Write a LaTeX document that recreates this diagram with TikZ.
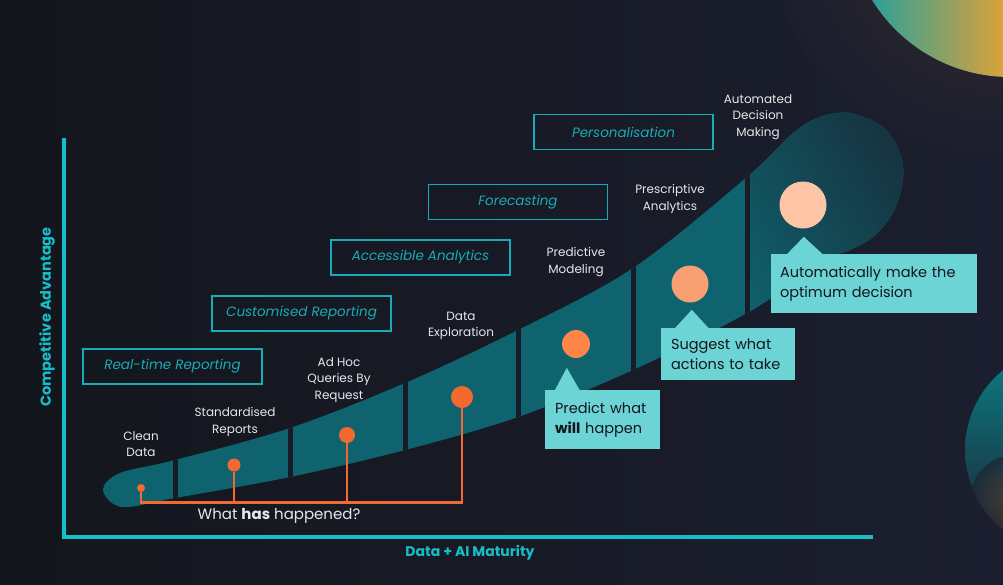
\documentclass[tikz,border=0pt]{standalone}
\usepackage{fontspec}
\setmainfont{Poppins}
\usetikzlibrary{calc,positioning}
\definecolor{navy}{RGB}{27,30,46}
\definecolor{navydark}{RGB}{20,22,29}
\definecolor{gapnavy}{RGB}{24,27,40}
\definecolor{axiscyan}{RGB}{22,190,200}
\definecolor{boxcyan}{RGB}{24,172,182}
\definecolor{bandteal}{RGB}{14,99,110}
\definecolor{bandfade}{RGB}{24,46,60}
\definecolor{dotorange}{RGB}{242,106,48}
\definecolor{dotlight}{RGB}{255,132,74}
\definecolor{dotsalmon}{RGB}{248,160,116}
\definecolor{dotpeach}{RGB}{253,196,166}
\definecolor{calloutteal}{RGB}{108,212,213}
\definecolor{labelgrey}{RGB}{232,232,234}
\definecolor{glowteal}{RGB}{30,160,160}
\definecolor{glowgreen}{RGB}{140,176,106}
\definecolor{glowgold}{RGB}{226,162,54}
\definecolor{glowhalo}{RGB}{52,44,46}
\definecolor{glowteal2}{RGB}{12,128,134}
\definecolor{glowrust}{RGB}{110,70,45}

\newcommand\bandpath{plot[smooth cycle, tension=0.55] coordinates {(103,490) (120,473) (175,460) (290,428) (405,383) (518,330) (633,268) (747,177) (793,133) (820,117) (850,113) (883,127) (900,153) (903,180) (893,213) (873,237) (850,250) (827,260) (747,313) (633,370) (518,417) (405,450) (290,477) (175,498) (122,507)}}

\tikzset{
	stage/.style={align=center, text=labelgrey, inner sep=0pt, font=\fontsize{12}{16.5}\selectfont},
	tier/.style={draw=boxcyan, line width=1.4pt, minimum width=179pt, minimum height=35pt, inner sep=0pt, text=boxcyan, font=\fontsize{13.5}{16}\selectfont\itshape},
	callout/.style={fill=calloutteal, text=navydark, align=left, inner xsep=10pt, inner ysep=0pt, font=\fontsize{14.5}{20}\selectfont},
	dot/.style={circle, fill=dotorange, inner sep=0pt},
	bracket/.style={dotorange, line width=2.4pt},
}

\begin{document}
\begin{tikzpicture}[x=1pt, y=-1pt]
	\shade[left color=navydark, right color=navy] (0,0) rectangle (1003,584);
	\useasboundingbox (0,0) rectangle (1003,584);
	
	\begin{scope}
		\clip (0,0) rectangle (1003,584);
		\shade[inner color=glowhalo, outer color=navy] (1000,-70) circle (230);
		\begin{scope}
			\clip (1010,-85) circle (162);
			\shade[left color=glowteal, middle color=glowgreen, right color=glowgold] (860,-90) rectangle (1010,90);
		\end{scope}
		\begin{scope}
			\clip (1068,450) circle (103);
			\shade[top color=glowteal2, bottom color=navy] (960,345) rectangle (1010,555);
			\shade[inner color=glowrust, outer color=navy, opacity=0.6] (1015,500) circle (45);
		\end{scope}
	\end{scope}
	
	% band
	\fill[bandteal] \bandpath;
	\begin{scope}
		\clip \bandpath;
		\begin{scope}
			\clip (749.5,0) rectangle (1003,584);
			\shade[left color=bandteal, right color=bandfade, shading angle=120] (700,70) rectangle (930,340);
		\end{scope}
		\foreach \gx in {175,290,405,518,633,747}
		\fill[gapnavy] (\gx-2.5,0) rectangle (\gx+2.5,584);
	\end{scope}
	
	\node[dot, minimum size=8pt] (d1) at (141,488) {};
	\node[dot, minimum size=13pt] (d2) at (234,465) {};
	\node[dot, minimum size=16pt] (d3) at (347,435) {};
	\node[dot, minimum size=22pt] (d4) at (462,397) {};
	\node[dot, minimum size=28pt, fill=dotlight] (d5) at (576,344) {};
	\node[dot, minimum size=37pt, fill=dotsalmon] (d6) at (690,284) {};
	\node[dot, minimum size=47pt, fill=dotpeach] (d7) at (803,205) {};
	
	\coordinate (base) at (0,502.5);
	\draw[bracket] (d1.south) -- (d1 |- base) -- (d4 |- base) -- (d4.south);
	\draw[bracket] (d2.south) -- (d2 |- base);
	\draw[bracket] (d3.south) -- (d3 |- base);
	
	\node[text=labelgrey, font=\fontsize{15}{18}\selectfont] (hap) at (279,516) {What \textbf{has} happened?};
	
	\node[stage] (s1) at (141,444) {Clean\\Data};
	\node[stage] (s2) at (235,422) {Standardised\\Reports};
	\node[stage] (s3) at (339,380) {Ad Hoc\\Queries By\\Request};
	\node[stage] (s4) at (461,326) {Data\\Exploration};
	\node[stage] (s5) at (576,262) {Predictive\\Modeling};
	\node[stage] (s6) at (670,199) {Prescriptive\\Analytics};
	\node[stage] (s7) at (758,117) {Automated\\Decision\\Making};
	
	\node[tier] (t1) at (172.5,366.5) {Real-time Reporting};
	\node[tier] (t2) at (301.5,313.5) {Customised Reporting};
	\node[tier] (t3) at (420.5,257.5) {Accessible Analytics};
	\node[tier] (t4) at (518,202) {Forecasting};
	\node[tier] (t5) at (623.5,132) {Personalisation};
	
	\node[callout, minimum width=115pt, minimum height=59pt, text width=95pt] (p1) at (602.5,419.5) {Predict what\\\textbf{will} happen};
	\fill[calloutteal] ($(p1.north west)+(10,0.5)$) -- ($(p1.north west)+(22,-22)$) -- ($(p1.north west)+(35,0.5)$) -- cycle;
	\node[callout, minimum width=134pt, minimum height=52pt, text width=114pt] (p2) at (728,354) {Suggest what\\actions to take};
	\fill[calloutteal] ($(p2.north west)+(14,0.5)$) -- ($(p2.north west)+(31,-18)$) -- ($(p2.north west)+(48,0.5)$) -- cycle;
	\node[callout, minimum width=206pt, minimum height=59pt, text width=188pt, inner xsep=9pt] (p3) at (874,283.5) {Automatically make the\\optimum decision};
	\fill[calloutteal] ($(p3.north west)+(16,0.5)$) -- ($(p3.north west)+(33,-17)$) -- ($(p3.north west)+(52,0.5)$) -- cycle;
	
	% axes
	\coordinate (origin) at (64,537);
	\coordinate (ytop) at (64,138);
	\coordinate (xend) at (873,537);
	\draw[axiscyan, line width=3.2pt] (ytop) -- (origin) -- (xend);
	\node[rotate=90, text=axiscyan, font=\fontsize{14.5}{18}\selectfont\bfseries] (ylab) at (47,317) {Competitive Advantage};
	\node[text=axiscyan, font=\fontsize{14}{18}\selectfont\bfseries] (xlab) at (470,553) {Data + AI Maturity};
\end{tikzpicture}
\end{document}
